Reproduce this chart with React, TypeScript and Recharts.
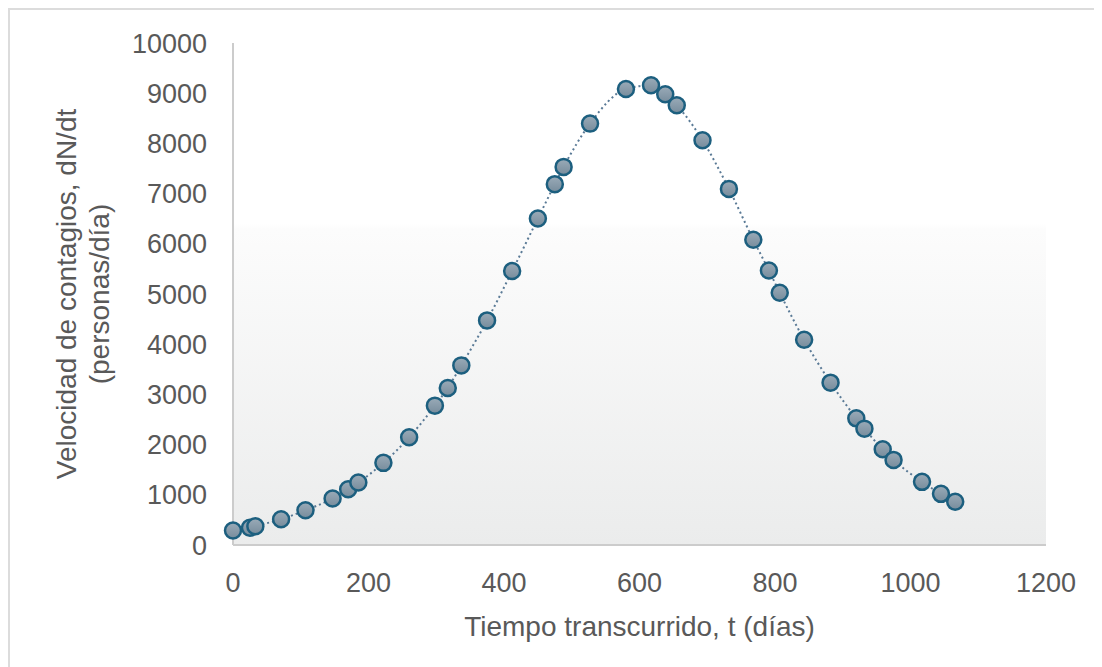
import { ComposedChart, Line, XAxis, YAxis, CartesianGrid } from 'recharts';

// Elapsed time (days) and infection rate (persons/day)
const dias = [0, 25, 33, 71, 107, 147, 170, 185, 222, 260, 298, 317, 337, 375, 412, 450, 475, 488, 527, 580, 617, 638, 655, 693, 732, 768, 791, 807, 843, 882, 920, 932, 959, 975, 1017, 1045, 1066];
const velocidad = [289, 342, 374, 513, 693, 925, 1110, 1244, 1636, 2145, 2776, 3128, 3578, 4474, 5457, 6503, 7188, 7532, 8394, 9084, 9158, 8979, 8760, 8063, 7094, 6079, 5469, 5025, 4089, 3234, 2523, 2318, 1906, 1695, 1258, 1019, 860];

const xTicks = [0, 200, 400, 600, 800, 1000, 1200];
const yTicks = [0, 1000, 2000, 3000, 4000, 5000, 6000, 7000, 8000, 9000, 10000];

const xTitle = 'Tiempo transcurrido, t (días)';
const yTitle = ['Velocidad de contagios, dN/dt', '(personas/día)'];

const data = dias.map((t, i) => ({ t, v: velocidad[i] }));

const TEXT = '#595959';
const FONT = '"Liberation Sans", Arial, sans-serif';

const YTitle = (props: any) => {
    const vb = props.viewBox;
    const cy = vb.y + vb.height / 2;
    return (
        <g>
            {yTitle.map((line, i) => {
                const x = vb.x + 66 + i * 33;
                return (
                    <text key={i} x={x} y={cy} transform={`rotate(-90, ${x}, ${cy})`} textAnchor="middle"
                        fill={TEXT} fontSize={28} fontFamily={FONT}>
                        {line}
                    </text>
                );
            })}
        </g>
    );
};

const XTitle = (props: any) => {
    const vb = props.viewBox;
    return (
        <text x={vb.x + vb.width / 2} y={vb.y + 91} textAnchor="middle" fill={TEXT} fontSize={28} fontFamily={FONT}>
            {xTitle}
        </text>
    );
};

export default function App() {
    return (
        <div style={{ width: 1092, height: 657, borderLeft: '2px solid #dcdcdc', borderTop: '2px solid #dcdcdc', background: '#fff' }}>
            <ComposedChart width={1092} height={657} data={data} margin={{ top: 33, right: 56, left: 0, bottom: 62 }}>
                <defs>
                    <linearGradient id="plotBg" x1="0" y1="0" x2="0" y2="1">
                        <stop offset="0" stopColor="#ffffff" />
                        <stop offset="0.36" stopColor="#ffffff" />
                        <stop offset="0.37" stopColor="#fcfcfc" />
                        <stop offset="1" stopColor="#ebecec" />
                    </linearGradient>
                    <linearGradient id="dotFill" x1="0" y1="0" x2="0" y2="1">
                        <stop offset="0" stopColor="#9aabb8" />
                        <stop offset="1" stopColor="#778c9c" />
                    </linearGradient>
                </defs>

                {/* plot background */}
                <CartesianGrid horizontal={false} vertical={false} fill="url(#plotBg)" stroke="none" />

                <XAxis
                    type="number"
                    dataKey="t"
                    domain={[0, 1200]}
                    ticks={xTicks}
                    height={60}
                    tickLine={false}
                    tickSize={0}
                    tickMargin={28}
                    axisLine={{ stroke: '#cccccc', strokeWidth: 2 }}
                    tick={{ fontSize: 27, fill: TEXT, fontFamily: FONT }}
                    label={{ content: XTitle }}
                />
                <YAxis
                    type="number"
                    dataKey="v"
                    domain={[0, 10000]}
                    ticks={yTicks}
                    width={223}
                    tickLine={false}
                    tickSize={0}
                    tickMargin={26}
                    axisLine={{ stroke: '#cccccc', strokeWidth: 2 }}
                    tick={{ fontSize: 27, fill: TEXT, fontFamily: FONT }}
                    label={{ content: YTitle }}
                />

                <Line
                    type="monotone"
                    dataKey="v"
                    stroke="#5a7a96"
                    strokeWidth={2}
                    strokeDasharray="2 3"
                    dot={{ r: 8, fill: 'url(#dotFill)', stroke: '#1c5f7f', strokeWidth: 2.5, strokeDasharray: 'none' }}
                    activeDot={false}
                    isAnimationActive={false}
                />
            </ComposedChart>
        </div>
    );
}
